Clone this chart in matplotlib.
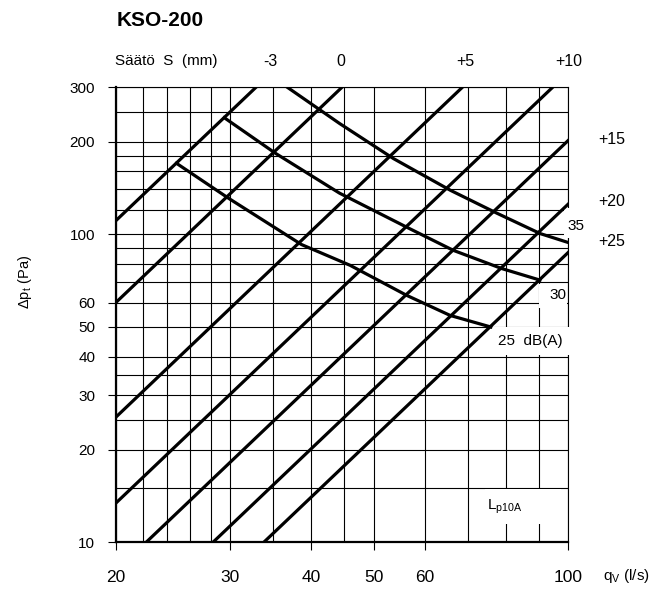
import numpy as np
import matplotlib.pyplot as plt
from matplotlib.patches import Rectangle
from matplotlib.ticker import NullFormatter

W, H = 671, 591

# säätöasento ja virtaama (l/s), jolla painehäviö on 100 Pa  (dp ~ q^2)
settings = ['-3', '0', '+5', '+10', '+15', '+20', '+25']
q_at_100pa = [19.0, 25.8, 39.6, 54.6, 70.4, 89.3, 107.0]

# äänitasokäyrät Lp10A, dB(A)
q_25db = [24.8, 29.9, 38.7, 46.0, 56.3, 65.7, 75.9]
dp_25db = [170, 130.6, 92.6, 79.3, 63.3, 54.5, 50.0]
q_30db = [29.4, 35.3, 44.3, 56.8, 66.4, 78.9, 90.4]
dp_30db = [239, 183, 136, 104.4, 88.7, 77.4, 71.0]
q_35db = [36.8, 44.3, 53.7, 65.7, 77.6, 90.5, 100]
dp_35db = [300, 229, 176, 139, 117, 100.5, 94]

x_ticks = [20, 30, 40, 50, 60, 100]
y_ticks = [10, 20, 30, 40, 50, 60, 100, 200, 300]
x_grid = [22, 24, 26, 28, 35, 45, 70, 80, 90]
y_grid = [15, 25, 35, 70, 80, 90, 120, 140, 160, 180, 250]

plt.rcParams['font.family'] = ['Liberation Sans', 'DejaVu Sans']
plt.rcParams['mathtext.fontset'] = 'custom'
plt.rcParams['mathtext.rm'] = 'Liberation Sans'


def fx(x):
    return x / W


def fy(y):
    return 1 - y / H


fig = plt.figure(figsize=(W / 100, H / 100), dpi=100)
ax = fig.add_axes([fx(116), fy(542.3), (568.3 - 116) / W, (542.3 - 87.3) / H])
ax.set_xscale('log')
ax.set_yscale('log')
ax.set_xlim(20, 100)
ax.set_ylim(10, 300)

ax.set_xticks(x_ticks, labels=[str(v) for v in x_ticks])
ax.set_yticks(y_ticks, labels=[str(v) for v in y_ticks])
ax.set_xticks(x_grid, minor=True)
ax.set_yticks(y_grid, minor=True)
ax.xaxis.set_minor_formatter(NullFormatter())
ax.yaxis.set_minor_formatter(NullFormatter())
ax.grid(which='both', color='black', lw=0.8)
ax.tick_params(which='minor', length=0)
ax.tick_params(which='major', direction='out', length=6, width=0.8, labelsize=11)
ax.tick_params(axis='x', pad=14, labelsize=12.5)
ax.tick_params(axis='y', pad=9)
for s in ['left', 'bottom']:
    ax.spines[s].set_linewidth(1.6)
for s in ['top', 'right']:
    ax.spines[s].set_linewidth(0.8)

# säätölinjat
q = np.array([20.0, 100.0])
for q100 in q_at_100pa:
    ax.plot(q, 100 * (q / q100) ** 2, color='black', lw=2.3, zorder=4)

# äänitasot
ax.plot(q_25db, dp_25db, color='black', lw=2.3, zorder=4)
ax.plot(q_30db, dp_30db, color='black', lw=2.3, zorder=4)
ax.plot(q_35db, dp_35db, color='black', lw=2.3, zorder=4)

# valkoiset pohjat tekstien alle
def blank(x0, y0, x1, y1):
    ax.add_patch(Rectangle((fx(x0), fy(y1)), (x1 - x0) / W, (y1 - y0) / H,
                           transform=fig.transFigure, fc='white', ec='none',
                           zorder=3, clip_on=False))


blank(564, 208, 594, 238)
blank(539, 284, 567, 308)
blank(490, 327, 584, 355)
blank(485, 489, 561, 524)

ax.text(fx(576), fy(226), '35', transform=fig.transFigure, ha='center', va='center', fontsize=11, zorder=5)
ax.text(fx(558), fy(295), '30', transform=fig.transFigure, ha='center', va='center', fontsize=11, zorder=5)
ax.text(fx(498), fy(341), '25  dB(A)', transform=fig.transFigure, ha='left', va='center', fontsize=11, zorder=5)
ax.text(fx(487), fy(507), r'L$_\mathrm{p10A}$', transform=fig.transFigure, ha='left', va='center', fontsize=11, zorder=5)

fig.text(fx(117), fy(21), 'KSO-200', fontsize=15, fontweight='bold',
         family=['Liberation Sans Narrow', 'Liberation Sans'], va='center')
fig.text(fx(115), fy(61.5), 'Säätö  S  (mm)', fontsize=11, va='center')
for lab, xp in zip(settings[:4], [270, 341, 465, 569]):
    fig.text(fx(xp), fy(61.5), lab, fontsize=11.5, ha='center', va='center')
for lab, yp in zip(settings[4:], [139, 202, 241]):
    fig.text(fx(598), fy(yp), lab, fontsize=11.5, ha='left', va='center')

fig.text(fx(25), fy(282), r'$\Delta$p$_\mathrm{t}$ (Pa)', rotation=90, fontsize=10.5, ha='center', va='center')
fig.text(fx(603), fy(576), r'q$_\mathrm{V}$ (l/s)', fontsize=11, ha='left', va='center')

fig.savefig('out.png', dpi=100)
